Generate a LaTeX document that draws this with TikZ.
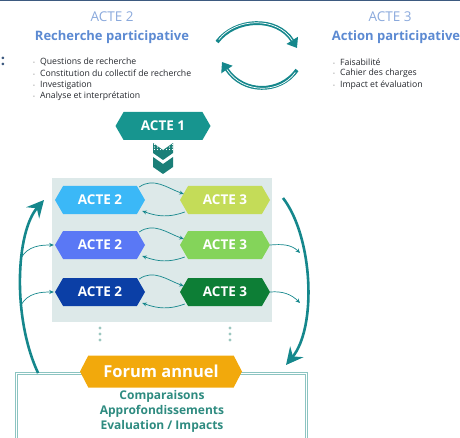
\documentclass[tikz,border=0pt]{standalone}
\usepackage{fontspec}
\setmainfont{Open Sans}
\usetikzlibrary{shapes.symbols,arrows.meta,positioning}

\definecolor{cadrebleu}{HTML}{3D5A80}
\definecolor{titrec}{HTML}{8AA9DC}
\definecolor{titreb}{HTML}{5C8AD2}
\definecolor{texte}{HTML}{25282E}
\definecolor{puceg}{HTML}{8A8A8A}
\definecolor{fleche}{HTML}{15878C}
\definecolor{acteun}{HTML}{17958F}
\definecolor{chevron}{HTML}{1B7F78}
\definecolor{panneauc}{HTML}{DDE9E9}
\definecolor{bleuA}{HTML}{3BB8F7}
\definecolor{bleuB}{HTML}{5A78F5}
\definecolor{bleuC}{HTML}{0B3FA6}
\definecolor{vertA}{HTML}{C4DC58}
\definecolor{vertB}{HTML}{84D45A}
\definecolor{vertC}{HTML}{0D7E36}
\definecolor{pointc}{HTML}{9CC7C0}
\definecolor{forumc}{HTML}{F2A90C}
\definecolor{bilanl}{HTML}{8CC4C1}
\definecolor{bilant}{HTML}{2E8B80}

\tikzset{
  acte/.style={signal, signal to=west and east, signal pointer angle=120,
    minimum width=90pt, minimum height=28pt, inner sep=0pt, text=white,
    font=\bfseries\fontsize{13.5}{15}\selectfont},
  boucle/.style={draw=fleche, line width=0.7pt, -{Stealth[length=4.5pt,width=4pt]}},
  grande/.style={draw=fleche, line width=2.6pt, -{Stealth[length=17pt,width=17pt,inset=6pt]}},
  tourne/.style={draw=fleche, line width=3.8pt, -{Triangle[length=9pt,width=13pt]}},
  puce/.style={anchor=west, inner sep=0pt, text=texte, font=\fontsize{8.7}{10}\selectfont},
}

\begin{document}
\begin{tikzpicture}[x=1pt,y=1pt]
    \useasboundingbox (0,0) rectangle (460,437);
    \draw[cadrebleu, line width=1.2pt] (0,436.4) -- (460,436.4);
    \node[text=cadrebleu, font=\bfseries\fontsize{15}{16}\selectfont] (deuxp) at (3,376) {:};

    % Acte 2
    \node[text=titrec, font=\fontsize{13.5}{15}\selectfont] (t2) at (112,420) {ACTE 2};
    \node[text=titreb, font=\bfseries\fontsize{13}{15}\selectfont] (r2) at (112,400) {Recherche participative};
    \foreach \y/\txt [count=\i] in {
        375/Questions de recherche,
        363.5/Constitution du collectif de recherche,
        352/Investigation,
        340.5/Analyse et interprétation
        } {
        \node[puce] (pg\i) at (33,\y) {{\color{puceg}\tiny•}\hspace{5pt}\txt};
    }

    % Acte 3
    \node[text=titrec, font=\fontsize{13.5}{15}\selectfont] (t3) at (390,420) {ACTE 3};
    \node[text=titreb, font=\bfseries\fontsize{13}{15}\selectfont] (r3) at (396,400) {Action participative};
    \foreach \y/\txt [count=\i] in {
        375/Faisabilité,
        363.5/Cahier des charges,
        352/Impact et évaluation
        } {
        \node[puce] (pd\i) at (333,\y) {{\color{puceg}\tiny•}\hspace{5pt}\txt};
    }

    % Cycle
    \coordinate (c1a) at (217,395);
    \coordinate (c1b) at (297,389);
    \coordinate (c2a) at (297,367);
    \coordinate (c2b) at (222,375);
    \draw[tourne] (c1a) .. controls (235,419) and (277,421) .. (c1b);
    \draw[tourne] (c2a) .. controls (280,343) and (243,343) .. (c2b);
    \draw[white, line width=0.7pt, shorten >=9pt, shorten <=3pt] (c1a) .. controls (235,419) and (277,421) .. (c1b);
    \draw[white, line width=0.7pt, shorten >=9pt, shorten <=3pt] (c2a) .. controls (280,343) and (243,343) .. (c2b);

    % Acte 1
    \node[acte, fill=acteun, minimum width=95pt] (a1) at (163,311) {ACTE 1};
    \foreach \dy in {0,14} {
        \fill[chevron, shift={(0,-\dy)}] (153,294) -- (163,287) -- (173,294) -- (173,284) -- (163,277) -- (153,284) -- cycle;
    }
    \begin{scope}
        \clip (153,294) -- (163,287) -- (173,294) -- (173,284) -- (163,277) -- (153,284) -- cycle;
        \foreach \xx in {154.5,157.5,...,172.5} {
            \foreach \yy in {292.5,290,287.5} {
                \fill[white] (\xx,\yy) circle (0.7pt);
            }
        }
    \end{scope}

    % Panneau
    \node[fill=panneauc, minimum width=220pt, minimum height=144pt, inner sep=0pt] (panneau) at (162,187) {};
    \foreach \y/\cg/\cd [count=\i] in {237/bleuA/vertA, 192/bleuB/vertB, 145/bleuC/vertC} {
        \node[acte, fill=\cg] (g\i) at (100,\y) {ACTE 2};
        \node[acte, fill=\cd] (d\i) at (225,\y) {ACTE 3};
        \draw[boucle] ([xshift=-6pt,yshift=13pt]g\i.east) to[out=35,in=160] ([xshift=4pt,yshift=6pt]d\i.west);
        \draw[boucle] ([xshift=5pt,yshift=-12pt]d\i.west) to[out=200,in=-20] ([xshift=-3pt,yshift=-11pt]g\i.east);
    }
    \foreach \x in {100,230} {
        \foreach \y in {109,103,97} {
            \fill[pointc] (\x,\y) circle (1.6pt);
        }
    }

    % Forum
    \node[draw=bilanl, line width=0.8pt, double=white, double distance=1.8pt,
        minimum width=290pt, minimum height=72pt, inner sep=0pt] (bilan) at (161.5,27.5) {};
    \node[signal, signal to=west and east, signal pointer angle=125, fill=forumc,
        minimum width=162pt, minimum height=32pt, inner sep=0pt, text=white,
        font=\bfseries\fontsize{16.5}{18}\selectfont] (forum) at (161,65.5) {Forum annuel};
    \node[text=bilant, align=center, font=\bfseries\fontsize{12}{15}\selectfont] (bilant) at (162,26) {Comparaisons\\Approfondissements\\Evaluation / Impacts};

    % Grandes fleches
    \coordinate (hautG) at (44,237);
    \coordinate (arcG1) at (21,179);
    \coordinate (arcG2) at (21,132);
    \coordinate (hautD) at (283,239);
    \coordinate (basD) at (286,72);
    \coordinate (sortD2) at (300,184);
    \coordinate (sortD3) at (300,134);
    \draw[grande] ([xshift=22pt]bilan.north west) .. controls (12,120) and (16,205) .. (hautG);
    \draw[grande] (hautD) .. controls (313,200) and (317,110) .. (basD);
    \draw[boucle] (arcG1) to[out=60,in=180] ([xshift=-1pt]g2.west);
    \draw[boucle] (arcG2) to[out=60,in=180] ([xshift=-1pt]g3.west);
    \draw[boucle] (d2.east) to[out=5,in=135] (sortD2);
    \draw[boucle] (d3.east) to[out=5,in=135] (sortD3);
\end{tikzpicture}
\end{document}
